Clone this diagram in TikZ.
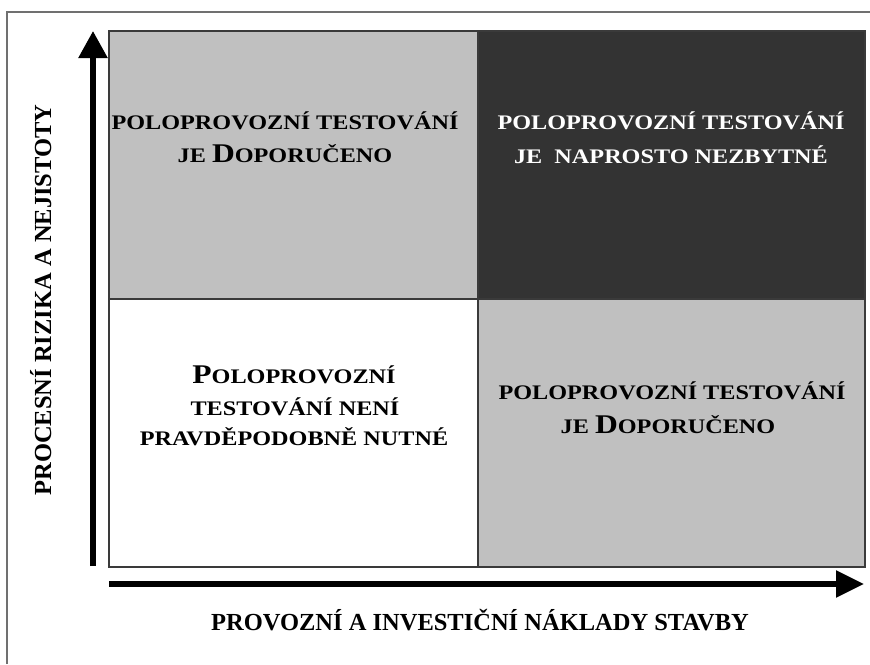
\documentclass[tikz,border=0pt]{standalone}
\usepackage{fontspec}
\setmainfont{Liberation Serif}
\newfontfamily\cellfont{Liberation Serif}[FakeStretch=1.17]
\usetikzlibrary{arrows.meta}
\definecolor{lightg}{HTML}{C0C0C0}
\definecolor{darkg}{HTML}{333333}
\definecolor{gridc}{HTML}{3A3A3A}
\definecolor{framec}{HTML}{707070}
\newcommand{\BgC}[1]{{\fontsize{27}{30}\selectfont #1}}
\begin{document}
\begin{tikzpicture}[x=1pt,y=-1pt,
  celltext/.style={anchor=base, inner sep=0pt, font=\cellfont\bfseries\fontsize{20.7}{24}\selectfont},
  axislabel/.style={anchor=base, inner sep=0pt, font=\bfseries\fontsize{24.5}{30}\selectfont},
  axisarrow/.style={line width=5.5pt, -{Triangle[width=28pt,length=27pt]}},
  cellbox/.style={draw=gridc, line width=1.5pt}]
\useasboundingbox (0,0) rectangle (870,664);
\fill[white] (0,0) rectangle (870,664);
\draw[framec, line width=1.2pt] (7,664) -- (7,12) -- (870,12);
% cells
\filldraw[cellbox, fill=lightg] (109,31) rectangle (478,299);
\filldraw[cellbox, fill=darkg] (478,31) rectangle (865,299);
\filldraw[cellbox, fill=white] (109,299) rectangle (478,567);
\filldraw[cellbox, fill=lightg] (478,299) rectangle (865,567);
% cell texts
\node[celltext] (tl1) at (285,129.5) {POLOPROVOZNÍ TESTOVÁNÍ};
\node[celltext] (tl2) at (285,162.7) {JE \BgC{D}OPORUČENO};
\node[celltext, text=white] (tr1) at (671,129.5) {POLOPROVOZNÍ TESTOVÁNÍ};
\node[celltext, text=white] (tr2) at (671,163) {JE\ \ NAPROSTO NEZBYTNÉ};
\node[celltext] (bl1) at (294,383) {\BgC{P}OLOPROVOZNÍ};
\node[celltext] (bl2) at (295,415.5) {TESTOVÁNÍ NENÍ};
\node[celltext] (bl3) at (294,445.5) {PRAVDĚPODOBNĚ NUTNÉ};
\node[celltext] (br1) at (672,399.3) {POLOPROVOZNÍ TESTOVÁNÍ};
\node[celltext] (br2) at (668,433.3) {JE \BgC{D}OPORUČENO};
% axes
\coordinate (yfrom) at (93,566);
\coordinate (yto) at (93,31);
\coordinate (xfrom) at (109,584);
\coordinate (xto) at (864,584);
\draw[axisarrow] (yfrom) -- (yto);
\draw[line width=5.5pt, -{Triangle[width=26pt,length=28pt]}] (xfrom) -- (xto);
% axis labels
\node[axislabel] (xlab) at (480,630) {PROVOZNÍ A INVESTIČNÍ NÁKLADY STAVBY};
\node[axislabel, rotate=90] (ylab) at (51,300) {PROCESNÍ RIZIKA A NEJISTOTY};
\end{tikzpicture}
\end{document}
